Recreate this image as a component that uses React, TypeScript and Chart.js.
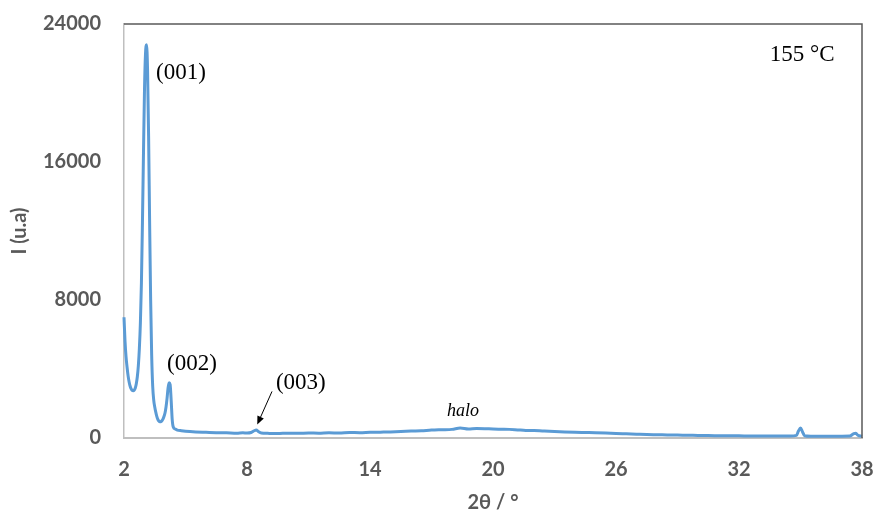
import React, { useEffect, useRef } from "react";
import { Chart, registerables } from "chart.js";

Chart.register(...registerables);

// 2θ (degrees)
const twoTheta = [
  2.0, 2.05, 2.1, 2.15, 2.2, 2.25, 2.3, 2.35, 2.4, 2.45, 2.5, 2.55, 2.6, 2.65, 2.7, 2.75, 2.8, 2.85, 2.9, 2.95,
  3.0, 3.05, 3.1, 3.15, 3.2, 3.25, 3.3, 3.35, 3.4, 3.45, 3.5, 3.55, 3.6, 3.65, 3.7, 3.75, 3.8, 3.85, 3.9, 3.95,
  4.0, 4.05, 4.1, 4.15, 4.2, 4.25, 4.3, 4.35, 4.4, 4.5, 4.6, 4.8, 5.0, 5.5, 6.0, 6.5, 7.0, 7.5, 7.8, 8.0,
  8.2, 8.35, 8.45, 8.55, 8.7, 9.0, 9.5, 10.0, 10.5, 11.0, 11.5, 12.0, 12.5, 13.0, 13.5, 14.0, 14.5, 15.0, 15.5, 16.0,
  16.5, 17.0, 17.5, 18.0, 18.4, 18.8, 19.2, 19.6, 20.0, 20.4, 20.8, 21.2, 21.6, 22.0, 22.5, 23.0, 23.5, 24.0, 24.5, 25.0,
  25.5, 26.0, 26.5, 27.0, 27.5, 28.0, 28.5, 29.0, 29.5, 30.0, 30.5, 31.0, 31.5, 32.0, 32.5, 33.0, 33.5, 34.0, 34.5, 34.8,
  34.9, 35.0, 35.1, 35.2, 35.5, 36.0, 36.5, 37.0, 37.4, 37.6, 37.7, 37.8, 38.0,
];

// Intensity (u.a)
const intensity = [
  7000, 5600, 4700, 4100, 3600, 3250, 3000, 2850, 2760, 2740, 2780, 2900, 3150, 3550, 4200, 5200, 6700, 9000, 12500, 16500,
  20200, 22300, 22800, 21300, 17500, 12500, 8000, 4800, 3000, 2200, 1800, 1500, 1250, 1080, 980, 940, 950, 1000, 1100, 1250,
  1450, 1800, 2300, 2900, 3200, 3100, 2200, 1100, 650, 520, 460, 420, 390, 350, 330, 310, 300, 280, 300, 290,
  320, 420, 470, 380, 290, 270, 260, 280, 270, 290, 280, 300, 290, 320, 310, 330, 340, 350, 370, 400,
  420, 460, 480, 500, 580, 520, 550, 540, 520, 510, 500, 470, 440, 430, 400, 380, 350, 330, 320, 310,
  290, 260, 240, 220, 200, 190, 180, 170, 160, 150, 140, 135, 130, 125, 120, 115, 110, 110, 110, 150,
  400, 580, 350, 130, 100, 100, 95, 100, 110, 250, 280, 160, 100,
];

const xTicks = [2, 8, 14, 20, 26, 32, 38];
const yTicks = [0, 8000, 16000, 24000];

// Annotation labels anchored at data coordinates
const labelTexts = ["(001)", "(002)", "(003)", "halo", "155 °C"];
const labelX = [3.56, 4.1, 9.41, 17.76, 33.5];
const labelY = [21150, 4300, 3200, 1570, 22200];
const labelItalic = [false, false, false, true, false];

// Arrow pointing to (003)
const arrowFrom = [9.22, 2700];
const arrowTo = [8.5, 780];

const TICK_FONT = { family: "Lato, 'Open Sans', sans-serif", size: 20, weight: "bold" as const };
const GRAY = "#595959";

export default function App() {
  const ref = useRef<HTMLCanvasElement | null>(null);

  useEffect(() => {
    if (!ref.current) return;
    const points = twoTheta.map((x, i) => ({ x, y: intensity[i] }));

    const framePlugin = {
      id: "frame",
      afterDraw(chart: any) {
        const { ctx, chartArea, scales } = chart;
        const { left, right, top, bottom } = chartArea;
        ctx.save();
        ctx.strokeStyle = GRAY;
        ctx.lineWidth = 1.5;
        ctx.beginPath();
        ctx.moveTo(left, top);
        ctx.lineTo(right, top);
        ctx.lineTo(right, bottom);
        ctx.stroke();

        // labels
        ctx.fillStyle = "#000";
        ctx.textBaseline = "middle";
        ctx.textAlign = "left";
        labelTexts.forEach((t, i) => {
          ctx.font = labelItalic[i]
            ? "italic 18px 'Liberation Serif', 'Times New Roman', serif"
            : "23px 'Liberation Serif', 'Times New Roman', serif";
          ctx.fillText(t, scales.x.getPixelForValue(labelX[i]), scales.y.getPixelForValue(labelY[i]));
        });

        // arrow
        const x1 = scales.x.getPixelForValue(arrowFrom[0]);
        const y1 = scales.y.getPixelForValue(arrowFrom[1]);
        const x2 = scales.x.getPixelForValue(arrowTo[0]);
        const y2 = scales.y.getPixelForValue(arrowTo[1]);
        const ang = Math.atan2(y2 - y1, x2 - x1);
        const hl = 9;
        ctx.strokeStyle = "#000";
        ctx.lineWidth = 1;
        ctx.beginPath();
        ctx.moveTo(x1, y1);
        ctx.lineTo(x2 - Math.cos(ang) * hl * 0.8, y2 - Math.sin(ang) * hl * 0.8);
        ctx.stroke();
        ctx.beginPath();
        ctx.moveTo(x2, y2);
        ctx.lineTo(x2 - hl * Math.cos(ang - 0.4), y2 - hl * Math.sin(ang - 0.4));
        ctx.lineTo(x2 - hl * Math.cos(ang + 0.4), y2 - hl * Math.sin(ang + 0.4));
        ctx.closePath();
        ctx.fillStyle = "#000";
        ctx.fill();
        ctx.restore();
      },
    };

    const chart = new Chart(ref.current, {
      type: "line",
      data: {
        datasets: [
          {
            data: points,
            borderColor: "#5B9BD5",
            borderWidth: 3,
            pointRadius: 0,
            fill: false,
            cubicInterpolationMode: "monotone",
            clip: false as any,
          },
        ],
      },
      options: {
        animation: false,
        responsive: true,
        maintainAspectRatio: false,
        layout: { padding: { top: 24, right: 13, left: 0, bottom: 0 } },
        plugins: { legend: { display: false }, tooltip: { enabled: false } },
        scales: {
          x: {
            type: "linear",
            min: 2,
            max: 38,
            afterBuildTicks: (s: any) => {
              s.ticks = xTicks.map((v) => ({ value: v }));
            },
            afterFit: (s: any) => {
              s.height = 77;
              s.paddingLeft = 0;
              s.paddingRight = 0;
            },
            grid: { display: false, drawTicks: false },
            border: { display: true, color: "#BFBFBF", width: 2 },
            ticks: {
              font: TICK_FONT,
              color: GRAY,
              padding: 20,
              maxRotation: 0,
              callback: (v: any) => String(v),
            },
            title: {
              display: true,
              text: "2θ / °",
              font: TICK_FONT,
              color: GRAY,
              padding: { top: 0, bottom: 0 },
            },
          },
          y: {
            type: "linear",
            min: 0,
            max: 24000,
            afterBuildTicks: (s: any) => {
              s.ticks = yTicks.map((v) => ({ value: v }));
            },
            afterFit: (s: any) => {
              s.width = 124;
              s.paddingTop = 0;
              s.paddingBottom = 0;
            },
            grid: { display: false, drawTicks: false },
            border: { display: true, color: "#BFBFBF", width: 1.5 },
            ticks: { font: TICK_FONT, color: GRAY, padding: 23, callback: (v: any) => String(v) },
            title: {
              display: true,
              text: "I (u.a)",
              font: TICK_FONT,
              color: GRAY,
              padding: { top: 8, bottom: 0 },
            },
          },
        },
      },
      plugins: [framePlugin],
    } as any);

    return () => chart.destroy();
  }, []);

  return (
    <div style={{ position: "fixed", left: 0, top: 0, width: 875, height: 515, background: "#fff" }}>
      <canvas ref={ref} />
    </div>
  );
}
